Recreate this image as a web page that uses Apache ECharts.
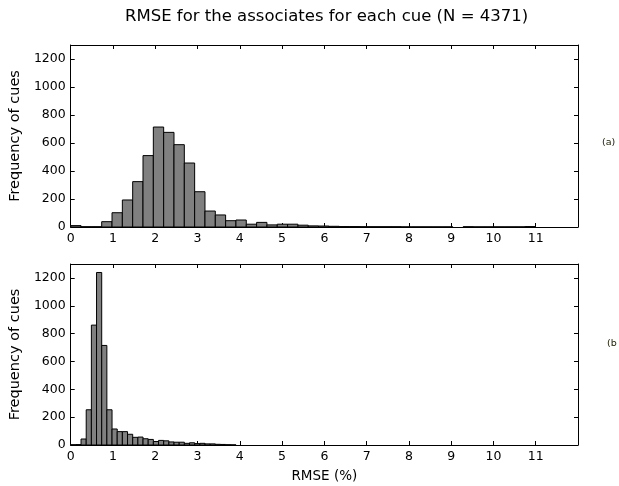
<!DOCTYPE html>
<html>
<head>
<meta charset="utf-8">
<title>RMSE for the associates for each cue</title>
<script src="https://cdn.jsdelivr.net/npm/echarts@6/dist/echarts.min.js"></script>
<style>
  html, body { margin: 0; padding: 0; background: #fff; }
  #chart { width: 619px; height: 486px; }
</style>
</head>
<body>
<div id="chart"></div>
<script>
// bin widths (RMSE %)
const binWidthA = 0.2443;
const binWidthB = 0.1222;

// (a) counts per bin, starting at 0
const countsA = [
  10, 2, 2, 38, 102, 193, 324, 510, 714, 676,
  588, 457, 252, 114, 86, 45, 50, 20, 33, 15,
  20, 20, 13, 8, 7, 5, 3, 3, 2, 2,
  2, 2, 1, 1, 1, 1, 1, 0, 2, 1,
  1, 1, 1, 1, 3, 0, 0, 0, 0
];

// (b) counts per bin, starting at 0
const countsB = [
  2, 3, 43, 253, 861, 1239, 715, 253, 115, 96,
  96, 77, 55, 57, 45, 40, 25, 33, 30, 22,
  20, 20, 12, 16, 10, 12, 8, 8, 5, 4,
  2, 1
];

const xTicks = [0, 1, 2, 3, 4, 5, 6, 7, 8, 9, 10, 11];
const yTicks = [0, 200, 400, 600, 800, 1000, 1200];

const FONT = 'DejaVu Sans';

function toBins(counts, width) {
  return counts.map((c, i) => [i * width, (i + 1) * width, c]);
}

function renderBar(params, api) {
  const count = api.value(2);
  if (!count) return null;
  const p0 = api.coord([api.value(0), count]);
  const p1 = api.coord([api.value(1), 0]);
  return {
    type: 'rect',
    shape: { x: p0[0], y: p0[1], width: p1[0] - p0[0], height: p1[1] - p0[1] },
    style: { fill: '#808080', stroke: '#000', lineWidth: 1 }
  };
}

function xAxisFor(gridIndex, position, withLabels) {
  return {
    type: 'value',
    gridIndex: gridIndex,
    position: position,
    min: 0,
    max: 12,
    interval: 1,
    splitLine: { show: false },
    axisLine: { show: true, onZero: false, lineStyle: { color: '#000', width: 1 } },
    axisTick: { show: true, inside: true, length: 4, lineStyle: { color: '#000' } },
    axisLabel: {
      show: withLabels,
      margin: 5,
      color: '#000',
      fontFamily: FONT,
      fontSize: 12.5,
      showMaxLabel: false,
      formatter: v => (xTicks.indexOf(v) >= 0 ? String(v) : '')
    }
  };
}

function yAxisFor(gridIndex, position, withLabels) {
  return {
    type: 'value',
    gridIndex: gridIndex,
    position: position,
    min: 0,
    max: 1300,
    interval: 200,
    splitLine: { show: false },
    axisLine: { show: true, onZero: false, lineStyle: { color: '#000', width: 1 } },
    axisTick: { show: true, inside: true, length: 4, lineStyle: { color: '#000' } },
    axisLabel: {
      show: withLabels,
      margin: 5,
      color: '#000',
      fontFamily: FONT,
      fontSize: 12.5,
      showMaxLabel: false,
      formatter: v => (yTicks.indexOf(v) >= 0 ? String(v) : '')
    },
    name: withLabels ? 'Frequency of cues' : '',
    nameLocation: 'middle',
    nameGap: 38,
    nameTextStyle: { color: '#000', fontFamily: FONT, fontSize: 14.5 }
  };
}

const chart = echarts.init(document.getElementById('chart'));

const xBottomB = xAxisFor(1, 'bottom', true);
xBottomB.name = 'RMSE (%)';
xBottomB.nameLocation = 'middle';
xBottomB.nameGap = 24;
xBottomB.nameTextStyle = { color: '#000', fontFamily: FONT, fontSize: 13.5 };

const option = {
  animation: false,
  backgroundColor: '#fff',
  grid: [
    { left: 70, top: 45, width: 508, height: 182 },
    { left: 70, top: 264, width: 508, height: 181 }
  ],
  xAxis: [
    xAxisFor(0, 'bottom', true),
    xAxisFor(0, 'top', false),
    xBottomB,
    xAxisFor(1, 'top', false)
  ],
  yAxis: [
    yAxisFor(0, 'left', true),
    yAxisFor(0, 'right', false),
    yAxisFor(1, 'left', true),
    yAxisFor(1, 'right', false)
  ],
  graphic: [
    {
      type: 'text', left: 125, top: 8,
      style: { text: 'RMSE for the associates for each cue (N = 4371)', fontFamily: FONT, fontSize: 16.5, fill: '#000' }
    },
    {
      type: 'text', left: 602, top: 138,
      style: { text: '(a)', fontFamily: FONT, fontSize: 9.5, fill: '#1a1a00' }
    },
    {
      type: 'text', left: 607, top: 339,
      style: { text: '(b', fontFamily: FONT, fontSize: 9.5, fill: '#1a1a00' }
    }
  ],
  series: [
    {
      type: 'custom',
      xAxisIndex: 0,
      yAxisIndex: 0,
      renderItem: renderBar,
      encode: { x: [0, 1], y: 2 },
      data: toBins(countsA, binWidthA)
    },
    {
      type: 'custom',
      xAxisIndex: 2,
      yAxisIndex: 2,
      renderItem: renderBar,
      encode: { x: [0, 1], y: 2 },
      data: toBins(countsB, binWidthB)
    }
  ]
};

chart.setOption(option);
</script>
</body>
</html>
